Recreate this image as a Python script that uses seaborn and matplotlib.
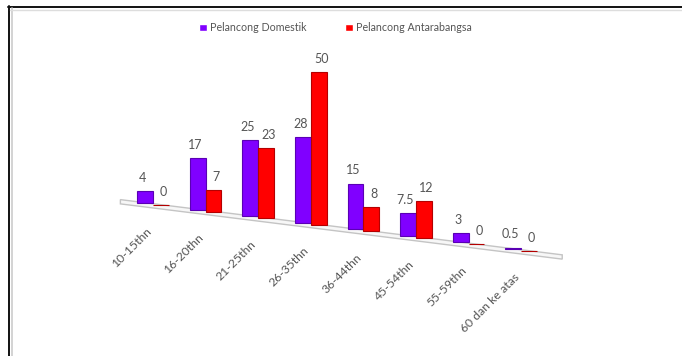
import numpy as np
import pandas as pd
import matplotlib
matplotlib.use("Agg")
import matplotlib.pyplot as plt
import matplotlib.transforms as mtransforms
from matplotlib.patches import Rectangle
from matplotlib.lines import Line2D
import seaborn as sns

# data
age_groups = ["10-15thn", "16-20thn", "21-25thn", "26-35thn",
              "36-44thn", "45-54thn", "55-59thn", "60 dan ke atas"]
domestik = [4, 17, 25, 28, 15, 7.5, 3, 0.5]
antarabangsa = [0, 7, 23, 50, 8, 12, 0, 0]
series_names = ["Pelancong Domestik", "Pelancong Antarabangsa"]
colors = {"Pelancong Domestik": "#8000ff", "Pelancong Antarabangsa": "#ff0000"}
edges = {"Pelancong Domestik": "#5a00b4", "Pelancong Antarabangsa": "#b40000"}

df = pd.DataFrame({
    "kumpulan": age_groups * 2,
    "nilai": domestik + antarabangsa,
    "jenis": [series_names[0]] * len(age_groups) + [series_names[1]] * len(age_groups),
})

sns.set_style("white")
plt.rcParams["font.family"] = ["Lato", "DejaVu Sans"]

W, H = 682, 356
fig = plt.figure(figsize=(W / 100, H / 100), dpi=100)
ax = fig.add_axes([0, 0, 1, 1])

ax = sns.barplot(data=df, x="kumpulan", y="nilai", hue="jenis",
                 palette=colors, width=0.6, saturation=1, ax=ax)

# pixel geometry: first group centre at x=153, 52.6 px per group, 3.05 px per unit
x0, dx, base_top, py = 153, 52.6, 204, 3.05
ax.set_xlim(-x0 / dx, (W - x0) / dx)
ax.set_ylim(-(H - base_top) / py, base_top / py)
ax.axis("off")

# floor slopes down to the right (fake 3D look)
k = 0.125


def drop(xc):
    # shift an object at data x = xc down to the sloping floor
    return ax.transData + mtransforms.Affine2D().translate(0, -k * dx * xc)


for p in ax.patches:
    xc = p.get_x() + p.get_width() / 2
    p.set_transform(drop(xc))
    fc = p.get_facecolor()
    name = series_names[0] if fc[2] > 0.5 else series_names[1]
    p.set_edgecolor(edges[name])
    p.set_linewidth(0.8)
    p.set_zorder(3)

# floor slab (sheared)
shear = mtransforms.Affine2D.from_values(1, -k, 0, 1, 0, k * x0)
floor = Rectangle((-0.62, -1.3), 8.4, 1.4, transform=ax.transData + shear,
                  facecolor="#f7f7f7", edgecolor="#c4c4c4", linewidth=1, zorder=2)
ax.add_patch(floor)

# value labels
for i in range(len(age_groups)):
    for off, v in ((-0.2, domestik[i]), (0.2, antarabangsa[i])):
        ax.text(i + off, v + 4.3, f"{v:g}", transform=drop(i + off * 0.75),
                ha="center", va="center", fontsize=9, color="#555555", zorder=4)

# category labels along the front of the floor
for i, lab in enumerate(age_groups):
    ax.text(i + 0.0, -7.0, lab, transform=drop(i), rotation=45, ha="right",
            va="top", fontsize=8.8, color="#555555")

sns.move_legend(ax, "upper center", bbox_to_anchor=(0.492, 0.965), ncol=2,
                frameon=False, title=None, fontsize=7.7, handlelength=0.7,
                handleheight=0.7, handletextpad=0.3, columnspacing=3.6)
for t in ax.get_legend().get_texts():
    t.set_color("#555555")

# frame lines of the original screenshot (top and left)
fig.add_artist(Line2D([8 / W, 1], [1 - 6.5 / H, 1 - 6.5 / H], color="#111111", lw=1.4))
fig.add_artist(Line2D([8.5 / W, 8.5 / W], [0, 1 - 6 / H], color="#111111", lw=1.4))
fig.add_artist(Line2D([12 / W, 12 / W], [0, 1 - 8 / H], color="#cccccc", lw=1.2))
fig.add_artist(Line2D([10 / W, 1], [1 - 9.5 / H, 1 - 9.5 / H], color="#dddddd", lw=1))

fig.savefig("out.png", dpi=100)
